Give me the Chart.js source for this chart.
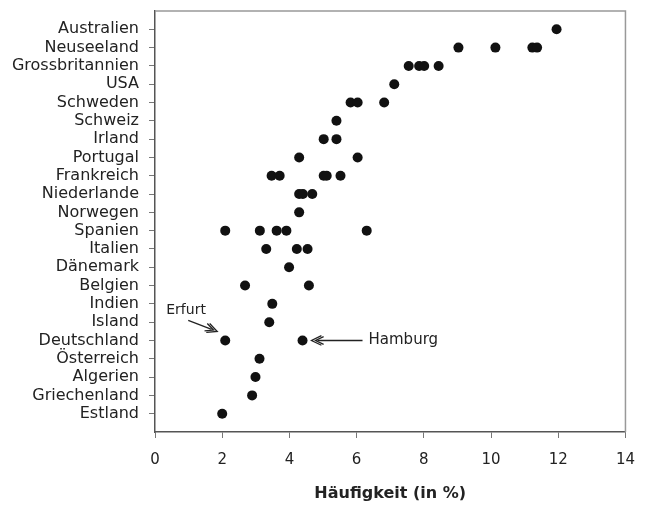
<!DOCTYPE html>
<html>
<head>
<meta charset="utf-8">
<script src="https://cdn.jsdelivr.net/npm/chart.js@4"></script>
<style>
  body { margin: 0; background: #fff; }
  #wrap { width: 648px; height: 510px; }
</style>
</head>
<body>
<div id="wrap"><canvas id="myChart"></canvas></div>
<script>
const countries = ['Australien', 'Neuseeland', 'Grossbritannien', 'USA', 'Schweden', 'Schweiz',
    'Irland', 'Portugal', 'Frankreich', 'Niederlande', 'Norwegen', 'Spanien', 'Italien',
    'Dänemark', 'Belgien', 'Indien', 'Island', 'Deutschland', 'Österreich', 'Algerien',
    'Griechenland', 'Estland'];

// one list of values (in %) per country, same order as above
const values = [
    [11.95],
    [9.03, 10.13, 11.23, 11.37],
    [7.55, 7.86, 8.01, 8.44],
    [7.12],
    [5.82, 6.03, 6.82],
    [5.40],
    [5.02, 5.40],
    [4.29, 6.03],
    [3.47, 3.71, 5.02, 5.11, 5.52],
    [4.29, 4.40, 4.68],
    [4.29],
    [2.09, 3.12, 3.62, 3.91, 6.30],
    [3.31, 4.22, 4.54],
    [3.99],
    [2.68, 4.58],
    [3.49],
    [3.40],
    [2.09, 4.39],
    [3.11],
    [2.99],
    [2.89],
    [2.00],
];

const xTicks = [0, 2, 4, 6, 8, 10, 12, 14];

const points = [];
countries.forEach((c, i) => {
    values[i].forEach(v => points.push({ x: v, y: i }));
});

const font = "'DejaVu Sans', sans-serif";
const deIdx = countries.indexOf('Deutschland');

function arrowHead(ctx, x, y, ang, len, spread) {
    ctx.beginPath();
    ctx.moveTo(x + len * Math.cos(ang + spread), y + len * Math.sin(ang + spread));
    ctx.lineTo(x, y);
    ctx.lineTo(x + len * Math.cos(ang - spread), y + len * Math.sin(ang - spread));
    ctx.stroke();
}

function doubleArrow(ctx, x1, y1, x2, y2) {
    // x1,y1 = tail, x2,y2 = tip
    const ang = Math.atan2(y1 - y2, x1 - x2);
    ctx.beginPath();
    ctx.moveTo(x1, y1);
    ctx.lineTo(x2 + 6 * Math.cos(ang), y2 + 6 * Math.sin(ang));
    ctx.stroke();
    arrowHead(ctx, x2, y2, ang, 11, 0.45);
    arrowHead(ctx, x2 + 4 * Math.cos(ang), y2 + 4 * Math.sin(ang), ang, 9, 0.45);
}

const notes = {
    id: 'notes',
    afterDraw(chart) {
        const { ctx, chartArea, scales } = chart;
        ctx.save();
        // frame top and right
        ctx.strokeStyle = '#999';
        ctx.lineWidth = 1.5;
        ctx.beginPath();
        ctx.moveTo(chartArea.left, chartArea.top);
        ctx.lineTo(chartArea.right, chartArea.top);
        ctx.lineTo(chartArea.right, chartArea.bottom);
        ctx.stroke();

        const yDe = scales.y.getPixelForValue(deIdx);
        const xErf = scales.x.getPixelForValue(values[deIdx][0]);
        const xHam = scales.x.getPixelForValue(values[deIdx][1]);
        ctx.strokeStyle = '#222';
        ctx.fillStyle = '#222';
        ctx.lineWidth = 1.3;
        ctx.textBaseline = 'middle';
        ctx.textAlign = 'left';
        // Hamburg
        doubleArrow(ctx, xHam + 60, yDe, xHam + 9, yDe);
        ctx.font = '15px ' + font;
        ctx.fillText('Hamburg', xHam + 66, yDe);
        // Erfurt
        doubleArrow(ctx, xErf - 37, yDe - 20, xErf - 8, yDe - 9);
        ctx.font = '14px ' + font;
        ctx.fillText('Erfurt', xErf - 59, yDe - 30);
        ctx.restore();
    }
};

new Chart(document.getElementById('myChart'), {
    type: 'scatter',
    data: {
        datasets: [{
            data: points,
            backgroundColor: '#111',
            borderWidth: 0,
            pointRadius: 5,
            pointHoverRadius: 5,
        }]
    },
    options: {
        responsive: true,
        maintainAspectRatio: false,
        animation: false,
        layout: { padding: { top: 11, right: 10, left: 0, bottom: 0 } },
        plugins: {
            legend: { display: false },
            tooltip: { enabled: false },
        },
        scales: {
            x: {
                type: 'linear',
                min: 0,
                max: 14,
                afterBuildTicks: (scale) => { scale.ticks = xTicks.map(v => ({ value: v })); },
                afterFit: (scale) => { scale.height = 78; },
                grid: { drawOnChartArea: false, tickLength: 6, color: '#777', lineWidth: 1 },
                border: { color: '#555', width: 1.5 },
                ticks: { color: '#222', padding: 13, font: { family: font, size: 15 } },
                title: {
                    display: true,
                    text: 'Häufigkeit (in %)',
                    color: '#222',
                    font: { family: font, size: 16, weight: 'bold' },
                    padding: { top: 0, bottom: 7 }
                }
            },
            y: {
                type: 'linear',
                reverse: true,
                min: -1,
                max: 22,
                afterBuildTicks: (scale) => { scale.ticks = countries.map((c, i) => ({ value: i })); },
                afterFit: (scale) => {
                    scale.width = 155;
                    scale.paddingTop = 0;
                    scale.paddingBottom = 0;
                },
                grid: { drawOnChartArea: false, tickLength: 6, color: '#777', lineWidth: 1 },
                border: { color: '#555', width: 1.5 },
                ticks: {
                    color: '#222',
                    padding: 10,
                    autoSkip: false,
                    font: { family: font, size: 16 },
                    callback: (v) => countries[v]
                }
            }
        }
    },
    plugins: [notes]
});
</script>
</body>
</html>
